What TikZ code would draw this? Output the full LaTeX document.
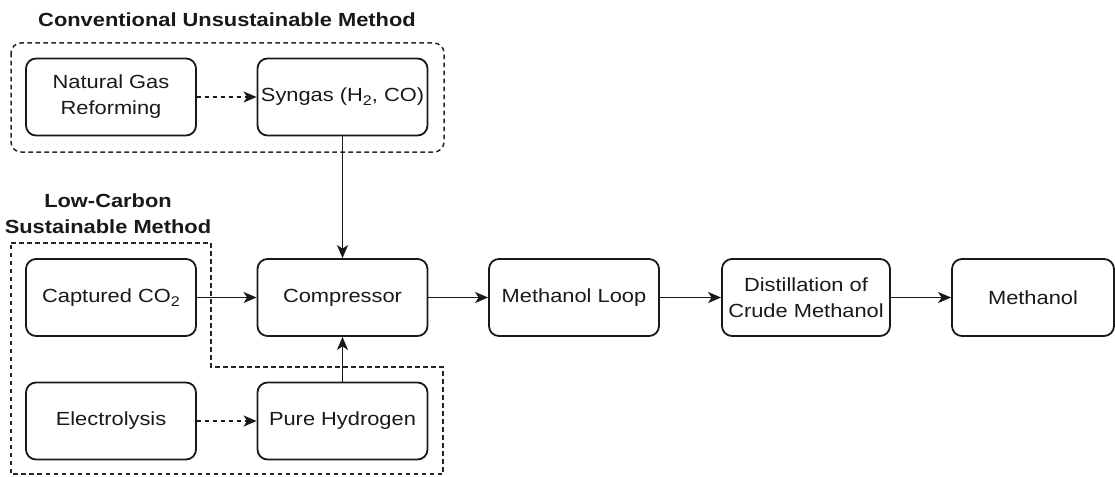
\documentclass[tikz,border=0pt]{standalone}
\usepackage{fontspec}
\setmainfont{Liberation Sans}[FakeStretch=1.15]
\usetikzlibrary{arrows.meta}
% lowered subscript digit in the body font
\newcommand{\lowidx}[1]{\raisebox{-0.4ex}{\fontsize{14}{14}\selectfont #1}}
\begin{document}
\begin{tikzpicture}[x=1pt,y=-1pt,
  txt/.style={font=\fontsize{19}{26}\selectfont, text=black!90, align=center, inner sep=0pt},
  box/.style={txt, draw=black!90, rounded corners=10pt, line width=1.8pt,
    minimum width=170pt, minimum height=77pt},
  title/.style={txt, font=\fontsize{19}{26}\selectfont\bfseries},
  flow/.style={-{Stealth[length=13pt,width=11pt,inset=3.5pt]}, line width=1.8pt, draw=black!90},
  feed/.style={flow, dash pattern=on 4.5pt off 3.5pt},
  group/.style={draw=black!85, line width=1.5pt, dash pattern=on 4.5pt off 3.5pt}]
  \useasboundingbox (0,0) rectangle (1115,476);

  % conventional route
  \node[title] (convtitle) at (227,20) {Conventional Unsustainable Method};
  \draw[group, rounded corners=10pt] (11,43) rectangle (444,152);
  \node[box] (ng)  at (111,97)   {Natural Gas\\Reforming};
  \node[box] (syn) at (342.5,97) {Syngas (H\lowidx{2}, CO)};

  % low-carbon route
  \node[title] (lctitle) at (108,214) {Low-Carbon\\Sustainable Method};
  \draw[group] (11,243) -- (211,243) -- (211,367) -- (443,367) -- (443,474) -- (11,474) -- cycle;
  \node[box] (co2)  at (111,297.5)   {Captured CO\lowidx{2}};
  \node[box] (el)   at (111,421)     {Electrolysis};
  \node[box] (h2)   at (342.5,421)   {Pure Hydrogen};

  % main process line
  \node[box] (comp) at (342.5,297.5) {Compressor};
  \node[box] (loop) at (574,297.5)   {Methanol Loop};
  \node[box, minimum width=168pt] (dist) at (806,297.5) {Distillation of\\Crude Methanol};
  \node[box, minimum width=162pt] (meoh) at (1033,297.5) {Methanol};

  % connectors
  \draw[feed] (ng) -- (syn);
  \draw[feed] (el) -- (h2);
  \draw[flow] (syn) -- (comp);
  \draw[flow] (co2) -- (comp);
  \draw[flow] (h2) -- (comp);
  \draw[flow] (comp) -- (loop);
  \draw[flow] (loop) -- (dist);
  \draw[flow] (dist) -- (meoh);
\end{tikzpicture}
\end{document}
